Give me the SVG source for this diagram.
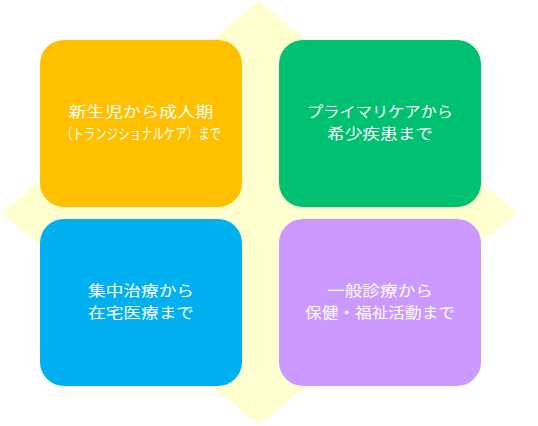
<svg xmlns="http://www.w3.org/2000/svg" width="538" height="426" viewBox="0 0 538 426">
<style>
.box{stroke:none}
.t{font-family:"Noto Sans CJK JP","Noto Sans CJK SC",sans-serif;font-size:15px;fill:#FFFFFF;text-anchor:middle}
</style>
<rect width="538" height="426" fill="#FFFFFF"/>
<g id="background">
<polygon points="259,1 517,213 259,425 1,213" fill="#FFFFD0"/>
</g>
<g id="connectors"></g>
<g id="node-tl">
<rect class="box" x="40" y="40" width="202" height="167" rx="24" ry="24" fill="#FFC000"/>
<text class="t"><tspan x="141" y="117" textLength="145" lengthAdjust="spacingAndGlyphs">新生児から成人期</tspan><tspan x="141" y="139" textLength="160" lengthAdjust="spacingAndGlyphs">（トランジショナルケア）まで</tspan></text>
</g>
<g id="node-tr">
<rect class="box" x="279" y="40" width="202" height="167" rx="24" ry="24" fill="#00C072"/>
<text class="t"><tspan x="380" y="117" textLength="146" lengthAdjust="spacingAndGlyphs">プライマリケアから</tspan><tspan x="380" y="139" textLength="106" lengthAdjust="spacingAndGlyphs">希少疾患まで</tspan></text>
</g>
<g id="node-bl">
<rect class="box" x="40" y="219" width="202" height="167" rx="24" ry="24" fill="#00B0F0"/>
<text class="t"><tspan x="141" y="296" textLength="106" lengthAdjust="spacingAndGlyphs">集中治療から</tspan><tspan x="141" y="318" textLength="106" lengthAdjust="spacingAndGlyphs">在宅医療まで</tspan></text>
</g>
<g id="node-br">
<rect class="box" x="279" y="219" width="202" height="167" rx="24" ry="24" fill="#CC99FF"/>
<text class="t"><tspan x="380" y="296" textLength="106" lengthAdjust="spacingAndGlyphs">一般診療から</tspan><tspan x="380" y="318" textLength="150" lengthAdjust="spacingAndGlyphs">保健・福祉活動まで</tspan></text>
</g>
</svg>
